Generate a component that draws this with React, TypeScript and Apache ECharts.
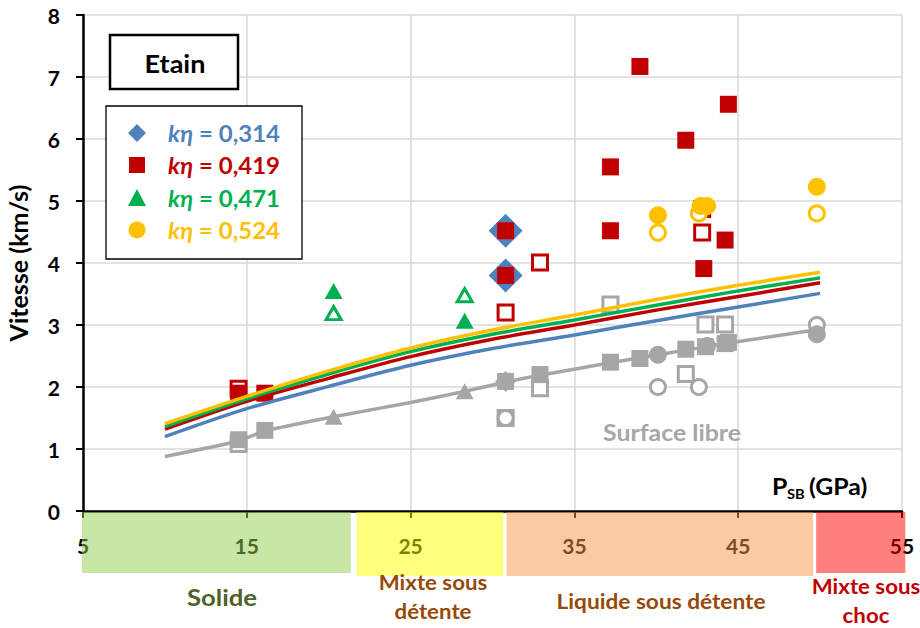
import React, { useEffect, useRef } from "react";
import * as echarts from "echarts";

// ---- model curves (x in GPa, y in km/s)
const modelX = [10, 15, 20, 25, 30, 35, 40, 45, 50];
const model0314 = [1.2, 1.65, 2.01, 2.35, 2.62, 2.84, 3.07, 3.29, 3.51];
const model0419 = [1.32, 1.77, 2.14, 2.49, 2.77, 3.0, 3.24, 3.46, 3.68];
const model0471 = [1.36, 1.81, 2.21, 2.57, 2.85, 3.08, 3.32, 3.55, 3.76];
const model0524 = [1.41, 1.85, 2.26, 2.63, 2.92, 3.16, 3.41, 3.64, 3.85];

// ---- free surface curve
const freeSurfX = [10, 14.5, 16.1, 20.3, 25, 28.3, 30.8, 32.9, 37.2, 40.1, 44.2, 50];
const freeSurfY = [0.88, 1.13, 1.29, 1.52, 1.75, 1.93, 2.08, 2.19, 2.39, 2.52, 2.7, 2.93];

// ---- measured points
const blueDiamonds = [[30.8, 4.52], [30.8, 3.8]];
const redFilled = [[14.5, 1.9], [16.1, 1.9], [30.8, 4.52], [30.8, 3.8], [37.2, 5.55], [37.2, 4.52], [39.0, 7.17], [41.8, 5.98], [44.4, 6.56], [44.2, 4.37], [42.9, 3.91]];
const redHollow = [[14.5, 1.97], [30.8, 3.2], [32.9, 4.01], [42.8, 4.49], [42.8, 4.87]];
const greenFilled = [[20.3, 3.55], [28.3, 3.07]];
const greenHollow = [[20.3, 3.19], [28.3, 3.48]];
const orangeFilled = [[40.1, 4.77], [42.7, 4.92], [43.1, 4.92], [49.8, 5.23]];
const orangeHollow = [[40.1, 4.49], [42.6, 4.8], [49.8, 4.8]];

const grayHollowSquares = [[14.5, 1.08], [30.8, 1.5], [32.9, 1.98], [37.2, 3.33], [41.8, 2.21], [43.0, 3.01], [44.2, 3.01]];
const grayHollowCircles = [[30.8, 1.5], [40.1, 2.0], [42.6, 2.0], [49.8, 3.0]];
const grayFilledSquares = [[14.5, 1.15], [16.1, 1.3], [30.8, 2.09], [32.9, 2.2], [37.2, 2.4], [39.0, 2.46], [41.8, 2.61], [43.0, 2.65], [44.2, 2.7], [44.4, 2.72]];
const grayFilledTriangles = [[20.3, 1.52], [28.3, 1.93]];
const grayFilledDiamonds = [[30.8, 2.09]];
const grayFilledCircles = [[40.1, 2.52], [43.1, 2.66], [49.8, 2.85]];

// ---- legend
const legendLabels = ["0,314", "0,419", "0,471", "0,524"];

// ---- phase bands under the x axis
const phaseNames = ["Solide", "Mixte sous\ndétente", "Liquide sous détente", "Mixte sous\nchoc"];
const phaseFrom = [4.94, 21.7, 30.85, 49.76];
const phaseTo = [21.35, 30.67, 49.57, 55.2];

const BLUE = "#4f81bd";
const RED = "#c00000";
const GREEN = "#00b050";
const ORANGE = "#ffc000";
const GRAY = "#a6a6a6";
const FONT = "Lato";

const pairs = (xs: number[], ys: number[]) => xs.map((x, i) => [x, ys[i]]);

function filled(data: number[][], symbol: string, size: any, color: string, z = 2) {
  return { type: "scatter", data, symbol, symbolSize: size, itemStyle: { color, opacity: 1 }, z, silent: true };
}
function hollow(data: number[][], symbol: string, size: any, color: string, z = 2) {
  return {
    type: "scatter",
    data,
    symbol,
    symbolSize: size,
    itemStyle: { color: "#ffffff", borderColor: color, borderWidth: 3, opacity: 1 },
    z,
    silent: true,
  };
}
function curve(xs: number[], ys: number[], color: string) {
  return {
    type: "line",
    data: pairs(xs, ys),
    symbol: "none",
    smooth: 0.3,
    lineStyle: { color, width: 3.5 },
    z: 3,
    silent: true,
  };
}

function txt(text: string, x: number, y: number, font: string, fill: string, opts: any = {}) {
  return {
    type: "text",
    z: opts.z ?? 51,
    x,
    y,
    scaleX: opts.scaleX ?? 1,
    silent: true,
    style: {
      text,
      font,
      fill,
      align: opts.align ?? "center",
      verticalAlign: "middle",
      textAlign: opts.align ?? "center",
      textVerticalAlign: "middle",
      lineHeight: opts.lineHeight,
    },
  };
}

export default function App() {
  const ref = useRef<HTMLDivElement>(null);
  useEffect(() => {
    if (!ref.current) return;
    const chart = echarts.init(ref.current, null, { renderer: "svg" });
    const option: any = {
      animation: false,
      grid: { left: 83, right: 18, top: 15, bottom: 117, containLabel: false, outerBoundsMode: "none" },
      xAxis: {
        type: "value",
        min: 5,
        max: 55,
        interval: 10,
        axisLine: { show: true, onZero: false, lineStyle: { color: "#000", width: 2.5 } },
        axisTick: { show: true, length: 7, lineStyle: { color: "#000", width: 2 } },
        axisLabel: { fontFamily: FONT, fontWeight: "bold", fontSize: 21, color: "#000", margin: 24 },
        splitLine: { show: true, lineStyle: { color: "#d9d9d9", width: 1.5 } },
      },
      yAxis: {
        type: "value",
        min: 0,
        max: 8,
        interval: 1,
        name: "Vitesse (km/s)",
        nameLocation: "middle",
        nameGap: 53,
        nameTextStyle: { fontFamily: FONT, fontWeight: "bold", fontSize: 25, color: "#000" },
        axisLine: { show: true, onZero: false, lineStyle: { color: "#000", width: 2.5 } },
        axisTick: { show: true, length: 7, lineStyle: { color: "#000", width: 2 } },
        axisLabel: { fontFamily: FONT, fontWeight: "bold", fontSize: 21, color: "#000", margin: 23 },
        splitLine: { show: true, lineStyle: { color: "#d9d9d9", width: 1.5 } },
      },
      series: [
        {
          type: "line",
          data: pairs(freeSurfX, freeSurfY),
          symbol: "none",
          smooth: 0.2,
          lineStyle: { color: GRAY, width: 3.5 },
          z: 2,
          silent: true,
        },
        hollow(grayHollowSquares, "rect", 15, GRAY),
        hollow(grayHollowCircles, "circle", 15, GRAY),
        filled(grayFilledDiamonds, "diamond", 21, GRAY),
        filled(grayFilledSquares, "rect", 17, GRAY),
        filled(grayFilledTriangles, "triangle", [18, 16], GRAY),
        filled(grayFilledCircles, "circle", 18, GRAY),
        filled(blueDiamonds, "diamond", 34, BLUE),
        hollow(redHollow, "rect", 15, RED),
        filled(redFilled, "rect", 17, RED),
        hollow(greenHollow, "triangle", [15, 13], GREEN),
        filled(greenFilled, "triangle", [18, 16], GREEN),
        hollow(orangeHollow, "circle", 15, ORANGE),
        filled(orangeFilled, "circle", 18, ORANGE),
        curve(modelX, model0314, BLUE),
        curve(modelX, model0419, RED),
        curve(modelX, model0471, GREEN),
        curve(modelX, model0524, ORANGE),
      ],
    };
    chart.setOption(option);

    // ---- annotations
    const y0 = chart.convertToPixel({ xAxisIndex: 0, yAxisIndex: 0 }, [5, 0])[1];
    const bandFills = ["rgba(146,208,80,0.5)", "rgba(255,255,0,0.5)", "rgba(247,150,70,0.5)", "rgba(255,0,0,0.5)"];
    const bandHeights = [61, 64, 64, 61];
    const labelColors = ["#4f6228", "#984807", "#984807", "#c00000"];
    const labelPos = [
      [222, 597],
      [433, 597],
      [661, 601],
      [866, 601],
    ];
    const labelFont = [23, 21, 21, 21];
    const labelScale = [1.12, 1.06, 1.08, 1.06];
    const graphics: any[] = [];
    phaseNames.forEach((name, i) => {
      const xa = chart.convertToPixel({ xAxisIndex: 0, yAxisIndex: 0 }, [phaseFrom[i], 0])[0];
      const xb = chart.convertToPixel({ xAxisIndex: 0, yAxisIndex: 0 }, [phaseTo[i], 0])[0];
      graphics.push({
        type: "rect",
        z: 100,
        shape: { x: xa, y: y0 + 1, width: xb - xa, height: bandHeights[i] },
        style: { fill: bandFills[i] },
        silent: true,
      });
      graphics.push(
        txt(name, labelPos[i][0], labelPos[i][1], `bold ${labelFont[i]}px ${FONT}`, labelColors[i], {
          z: 100,
          scaleX: labelScale[i],
          lineHeight: 29,
        })
      );
    });

    // Etain box
    graphics.push({
      type: "rect",
      z: 50,
      shape: { x: 110, y: 35, width: 128, height: 54 },
      style: { fill: "#fff", stroke: "#000", lineWidth: 2.5 },
    });
    graphics.push(txt("Etain", 175, 63, `bold 25px ${FONT}`, "#000", { scaleX: 1.08 }));

    // legend box
    graphics.push({
      type: "rect",
      z: 50,
      shape: { x: 106, y: 106, width: 196, height: 153 },
      style: { fill: "#fff", stroke: "#000", lineWidth: 1.3 },
    });
    const colors = [BLUE, RED, GREEN, ORANGE];
    const rowY = [133, 165, 198, 230];
    const sx = 137;
    graphics.push({ type: "polygon", z: 51, shape: { points: [[sx, rowY[0] - 9], [sx + 9, rowY[0]], [sx, rowY[0] + 9], [sx - 9, rowY[0]]] }, style: { fill: BLUE } });
    graphics.push({ type: "rect", z: 51, shape: { x: sx - 8, y: rowY[1] - 8, width: 16, height: 16 }, style: { fill: RED } });
    graphics.push({ type: "polygon", z: 51, shape: { points: [[sx, rowY[2] - 9], [sx + 9, rowY[2] + 8], [sx - 9, rowY[2] + 8]] }, style: { fill: GREEN } });
    graphics.push({ type: "circle", z: 51, shape: { cx: sx, cy: rowY[3], r: 8.5 }, style: { fill: ORANGE } });
    legendLabels.forEach((lab, i) => {
      graphics.push({
        type: "text",
        z: 51,
        x: 168,
        y: rowY[i],
        scaleX: 1.09,
        style: {
          text: `{i|kη}{b| = ${lab}}`,
          align: "left",
          verticalAlign: "middle",
          textAlign: "left",
          textVerticalAlign: "middle",
          rich: {
            i: { fontFamily: FONT, fontStyle: "italic", fontWeight: "bold", fontSize: 22, fill: colors[i] },
            b: { fontFamily: FONT, fontWeight: "bold", fontSize: 22, fill: colors[i] },
          },
        },
      });
    });

    // Surface libre
    graphics.push(txt("Surface libre", 672, 433, `bold 22px ${FONT}`, GRAY, { scaleX: 1.13 }));

    // P_SB (GPa)
    graphics.push(txt("P", 772, 486, `bold 23px ${FONT}`, "#000", { align: "left", scaleX: 1.08 }));
    graphics.push(txt("SB", 787, 494, `bold 14px ${FONT}`, "#000", { align: "left", scaleX: 1.05 }));
    graphics.push(txt("(GPa)", 809, 486, `bold 23px ${FONT}`, "#000", { align: "left", scaleX: 1.08 }));

    chart.setOption({ graphic: { elements: graphics } });

    return () => chart.dispose();
  }, []);

  return <div ref={ref} style={{ position: "absolute", left: 0, top: 0, width: 920, height: 628, background: "#fff" }} />;
}
